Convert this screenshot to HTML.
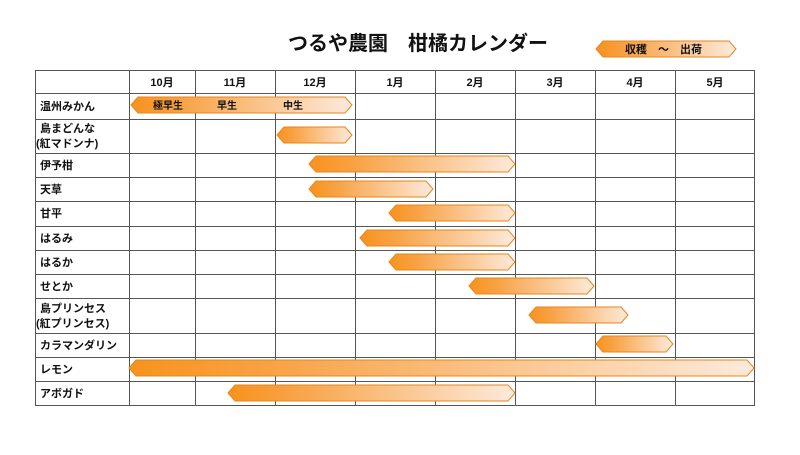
<!DOCTYPE html>
<html><head><meta charset="utf-8"><style>
body{margin:0;background:#fff}
svg text{font-family:"Liberation Sans","Noto Sans CJK JP",sans-serif;font-weight:bold;fill:#111}
</style></head><body>
<svg width="800" height="450" viewBox="0 0 800 450" xmlns="http://www.w3.org/2000/svg">
<defs>
<linearGradient id="g" x1="0" y1="0" x2="1" y2="0">
<stop offset="0" stop-color="#f7931e"/>
<stop offset="0.2" stop-color="#f8a040"/>
<stop offset="1" stop-color="#fdeadb"/>
</linearGradient>
</defs>
<text x="418" y="50" font-size="20" text-anchor="middle">つるや農園　柑橘カレンダー</text>
<g fill="none" stroke="#555" stroke-width="1">
<rect x="35.5" y="70.5" width="719" height="335"/>
<path d="M129.5 70V406M195.5 70V406M275.5 70V406M355.5 70V406M435.5 70V406M515.5 70V406M595.5 70V406M675.5 70V406"/>
<path d="M35 93.5H755M35 119.5H755M35 153.5H755M35 177.5H755M35 201.5H755M35 226.5H755M35 250.5H755M35 274.5H755M35 298.5H755M35 333.5H755M35 357.5H755M35 381.5H755"/>
</g>
<g font-size="11" text-anchor="middle">
<text x="162" y="86">10月</text><text x="235" y="86">11月</text><text x="315" y="86">12月</text><text x="395" y="86">1月</text><text x="475" y="86">2月</text><text x="555" y="86">3月</text><text x="635" y="86">4月</text><text x="715" y="86">5月</text>
</g>
<g font-size="11">
<text x="40" y="110">温州みかん</text>
<text x="40" y="132">島まどんな</text><text x="36" y="147">(紅マドンナ)</text>
<text x="40" y="169">伊予柑</text>
<text x="40" y="193">天草</text>
<text x="40" y="217">甘平</text>
<text x="40" y="242">はるみ</text>
<text x="40" y="266">はるか</text>
<text x="40" y="290">せとか</text>
<text x="40" y="312">島プリンセス</text><text x="36" y="327">(紅プリンセス)</text>
<text x="40" y="349">カラマンダリン</text>
<text x="40" y="373">レモン</text>
<text x="40" y="397">アボガド</text>
</g>
<g fill="url(#g)" stroke="#e8861a" stroke-width="1">
<polygon points="596,49 603,41 729,41 736,49 729,57 603,57"/>
<polygon points="131,105 138,97 345,97 352,105 345,113 138,113"/>
<polygon points="277,135 284,127 345,127 352,135 345,143 284,143"/>
<polygon points="309,164 316,156 508,156 515,164 508,172 316,172"/>
<polygon points="309,189 316,181 426,181 433,189 426,197 316,197"/>
<polygon points="389,213 396,205 508,205 515,213 508,221 396,221"/>
<polygon points="360,238 367,230 508,230 515,238 508,246 367,246"/>
<polygon points="389,262 396,254 508,254 515,262 508,270 396,270"/>
<polygon points="469,286 476,278 587,278 594,286 587,294 476,294"/>
<polygon points="529,315 536,307 621,307 628,315 621,323 536,323"/>
<polygon points="596,344 603,336 666,336 673,344 666,352 603,352"/>
<polygon points="129,368 136,360 747,360 754,368 747,376 136,376"/>
<polygon points="228,393 235,385 508,385 515,393 508,401 235,401"/>
</g>
<g font-size="10">
<text x="153" y="109">極早生</text><text x="217" y="109">早生</text><text x="283" y="109">中生</text>
<text x="625" y="53" font-size="11">収穫　〜　出荷</text>
</g>
</svg>
</body></html>
